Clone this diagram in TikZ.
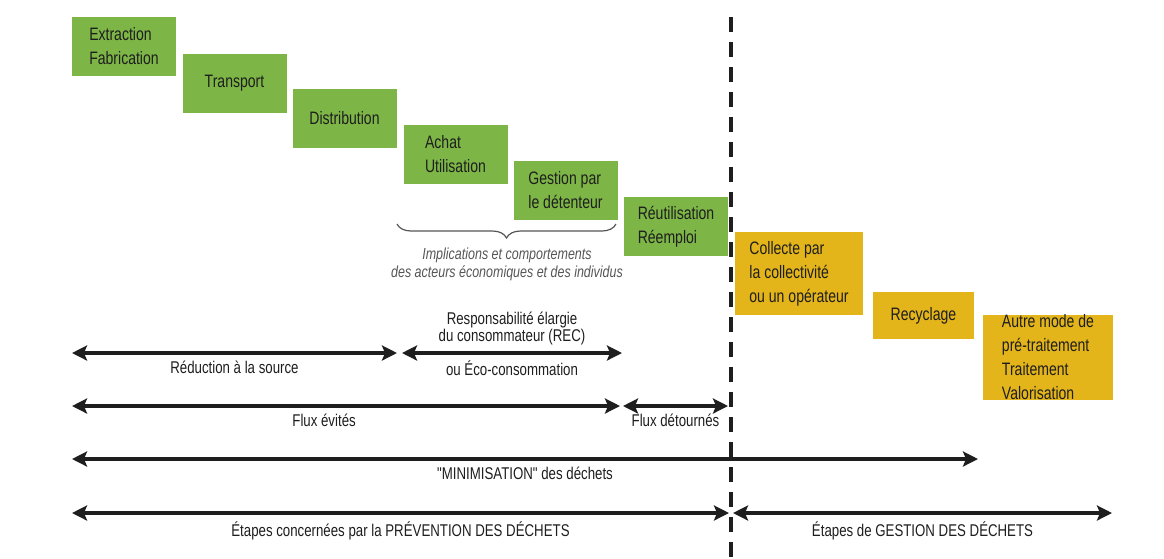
\documentclass[tikz,border=0pt]{standalone}
\usepackage{fontspec}
\setmainfont{Liberation Sans}[FakeStretch=0.78,Ligatures=TeXOff]
\usepackage{tikz}
\usetikzlibrary{arrows.meta,decorations.pathreplacing}
\definecolor{prv}{HTML}{7DB646}
\definecolor{gst}{HTML}{E4B51B}
\definecolor{ink}{HTML}{1E1E1E}
\definecolor{cmt}{HTML}{555555}

\begin{document}
\begin{tikzpicture}[x=1pt,y=-1pt,
  stage/.style={fill=prv,text=ink,align=left,inner sep=0pt,
    minimum width=104,minimum height=59,font=\fontsize{18}{24}\selectfont},
  waste/.style={stage,fill=gst},
  flow/.style={{Stealth[length=15pt,width=15pt,inset=3pt]}-{Stealth[length=15pt,width=15pt,inset=3pt]},line width=3.4pt,ink},
  lbl/.style={text=ink,inner sep=1pt,font=\fontsize{17}{17}\selectfont},
  note/.style={text=cmt,align=center,inner sep=0pt,font=\fontsize{16}{18}\selectfont\itshape}]
\useasboundingbox (0,0) rectangle (1164,558);
% prevention / gestion boundary
\coordinate (sepTop) at (731,17);
\coordinate (sepBot) at (731,558);
\draw[ink,line width=3.2pt,dash pattern=on 15pt off 10pt] (sepTop) -- (sepBot);
% life-cycle stages
\foreach \n/\x/\y/\t in {ext/124/46.5/{Extraction\\Fabrication},
  tra/234.5/83/Transport, dis/344.5/118/Distribution,
  ach/455.5/154.5/{Achat\\Utilisation}, ges/565.5/190.5/{Gestion par\\le détenteur},
  reu/676/226.5/{Réutilisation\\Réemploi}}{
  \node[stage] (\n) at (\x,\y) {\t};
}
\node[waste,minimum width=128,minimum height=83] (col) at (799,273.5) {Collecte par\\la collectivité\\ou un opérateur};
\node[waste,minimum width=101,minimum height=47] (rec) at (923.5,315.5) {Recyclage};
\node[waste,minimum width=130,minimum height=81] (aut) at (1048,357.5) {Autre mode de\\pré-traitement\\Traitement\\Valorisation};
% actors brace
\coordinate (brL) at (397,224);
\coordinate (brR) at (616,224);
\draw[cmt,line width=1.2pt,decorate,decoration={brace,mirror,amplitude=14pt}] (brL) -- (brR);
\node[note] (impl) at (507,264) {Implications et comportements\\des acteurs économiques et des individus};
% flows
\coordinate (a1) at (72,353);  \coordinate (a2) at (397,353);
\coordinate (a3) at (402,353); \coordinate (a4) at (622,353);
\coordinate (b1) at (72,406);  \coordinate (b2) at (620,406);
\coordinate (b3) at (623,406); \coordinate (b4) at (728,406);
\coordinate (c1) at (72,459);  \coordinate (c2) at (978,459);
\coordinate (d1) at (72,513);  \coordinate (d2) at (729,513);
\coordinate (d3) at (733,513); \coordinate (d4) at (1112,513);
\draw[flow] (a1) -- node[lbl,below=5pt] (red) {Réduction à la source} (a2);
\draw[flow] (a3) -- node[lbl,below=5pt] (eco) {ou Éco-consommation}
  node[lbl,above=5pt,align=center] (rep) {Responsabilité élargie\\du consommateur (REC)} (a4);
\draw[flow] (b1) -- node[lbl,below=5pt,pos=0.46] (evi) {Flux évités} (b2);
\draw[flow] (b3) -- node[lbl,below=5pt] (det) {Flux détournés} (b4);
\draw[flow] (c1) -- node[lbl,below=5pt] (mini) {"MINIMISATION" des déchets} (c2);
\draw[flow] (d1) -- node[lbl,below=6pt] (prev) {Étapes concernées par la PRÉVENTION DES DÉCHETS} (d2);
\draw[flow] (d3) -- node[lbl,below=6pt] (gest) {Étapes de GESTION DES DÉCHETS} (d4);
\end{tikzpicture}
\end{document}
